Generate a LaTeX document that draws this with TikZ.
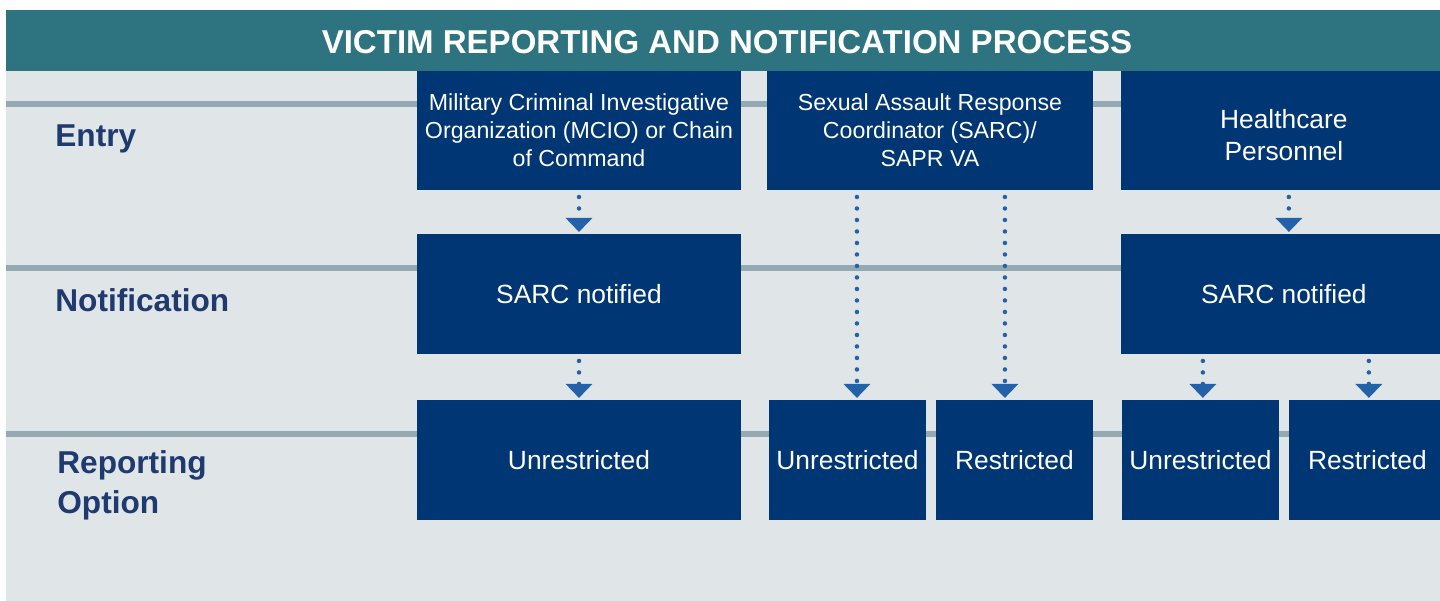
\documentclass[tikz,border=0pt]{standalone}
\usepackage{fontspec}
\setmainfont{Liberation Sans}
\usepackage{tikz}
\usetikzlibrary{positioning, arrows.meta}
\usepackage{xcolor}
\definecolor{bannerteal}{HTML}{2D7480}
\definecolor{panelgrey}{HTML}{E0E5E8}
\definecolor{lanegrey}{HTML}{93AAB3}
\definecolor{boxblue}{HTML}{003673}
\definecolor{arrowblue}{HTML}{2361A8}
\definecolor{labelblue}{HTML}{1E3A6F}

\begin{document}
\begin{tikzpicture}[x=0.02cm, y=-0.02cm,
    stagebox/.style={rectangle, fill=boxblue, text=white, align=center, inner sep=0pt, outer sep=0pt, minimum height=2.4cm, font=\fontsize{15}{18.1}\selectfont},
    entrybox/.style={stagebox, minimum height=2.38cm, font=\fontsize{13.2}{15.9}\selectfont},
    halfbox/.style={stagebox, minimum width=3.14cm},
    rowlabel/.style={text=labelblue, font=\bfseries\fontsize{18}{22.7}\selectfont, align=left, inner sep=0pt},
    lane/.style={lanegrey, line width=0.12cm},
    dotflow/.style={arrowblue, line width=0.09cm, line cap=round, dash pattern=on 0pt off 0.23cm, shorten <=0.14cm, shorten >=0.04cm, -{Triangle[width=0.52cm, length=0.28cm]}}
]
    \useasboundingbox (0,0) rectangle (1440,601);

    % Background and title bar
    \fill[panelgrey] (6,10) rectangle (1440,601);
    \fill[bannerteal] (6,10) rectangle (1440,71);
    \node[text=white, font=\bfseries\fontsize{18.8}{22}\selectfont, anchor=base] (title) at (727,54) {VICTIM REPORTING AND NOTIFICATION PROCESS};

    % Lanes
    \draw[lane] (6,104) -- (1440,104);
    \draw[lane] (6,268) -- (1440,268);
    \draw[lane] (6,434) -- (1440,434);

    % Row labels
    \node[rowlabel, anchor=base west] (entrylbl) at (55,147) {Entry};
    \node[rowlabel, anchor=base west] (notiflbl) at (55,311) {Notification};
    \node[rowlabel, anchor=west] (optionlbl) at (57,485) {Reporting\\Option};

    % Entry (the right column runs past the page edge)
    \node[entrybox, minimum width=6.48cm] (mcio) at (579,130.5) {
        Military Criminal Investigative\\
        Organization (MCIO) or Chain\\
        of Command
    };
    \node[entrybox, minimum width=6.52cm, right=0.52cm of mcio] (sarc) {
        Sexual Assault Response\\
        Coordinator (SARC)/\\
        SAPR VA
    };
    \node[entrybox, minimum width=6.52cm, right=0.56cm of sarc, font=\fontsize{15}{18.4}\selectfont] (health) {
        \rule{0pt}{0.56cm}Healthcare\\
        Personnel
    };

    % Notification
    \node[stagebox, minimum width=6.48cm, below=0.88cm of mcio] (notifA) {SARC notified};
    \node[stagebox, minimum width=6.52cm, below=0.88cm of health] (notifC) {SARC notified};

    % Reporting option
    \node[stagebox, minimum width=6.48cm, below=0.92cm of notifA] (unresA) {Unrestricted};
    \node[halfbox, right=0.56cm of unresA] (unresB) {Unrestricted};
    \node[halfbox, right=0.2cm of unresB] (restB) {Restricted};
    \node[halfbox, right=0.58cm of restB] (unresC) {Unrestricted};
    \node[halfbox, right=0.2cm of unresC] (restC) {Restricted};

    % Flows
    \draw[dotflow] (mcio) -- (notifA);
    \draw[dotflow] (notifA) -- (unresA);
    \draw[dotflow] ([xshift=-1.46cm]sarc.south) -- ([xshift=0.19cm]unresB.north);
    \draw[dotflow] ([xshift=1.5cm]sarc.south) -- ([xshift=-0.19cm]restB.north);
    \draw[dotflow] ([xshift=0.1cm]health.south) -- ([xshift=0.1cm]notifC.north);
    \draw[dotflow] ([xshift=-1.62cm]notifC.south) -- ([xshift=0.05cm]unresC.north);
    \draw[dotflow] ([xshift=1.7cm]notifC.south) -- ([xshift=0.03cm]restC.north);
\end{tikzpicture}
\end{document}
